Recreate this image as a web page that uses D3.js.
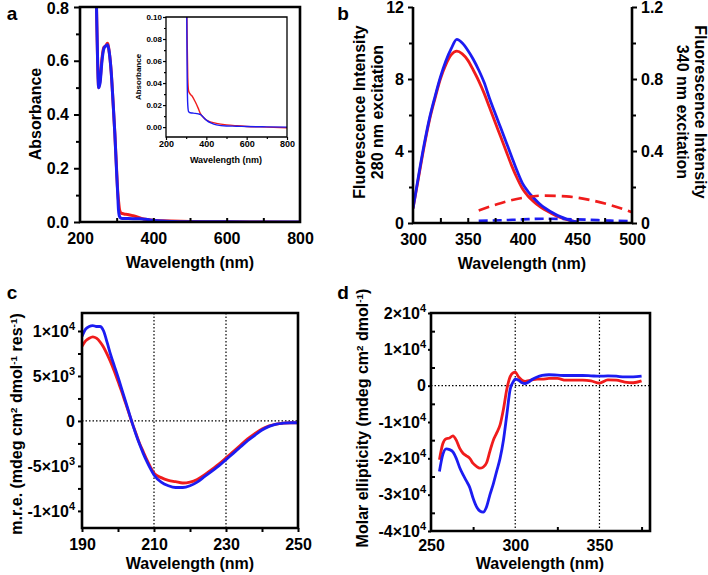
<!DOCTYPE html>
<html>
<head>
<meta charset="utf-8">
<script src="https://cdn.jsdelivr.net/npm/d3@7"></script>
<style>
body { margin: 0; background: #fff; }
</style>
</head>
<body>
<svg width="708" height="575"></svg>
<script>
// ---- data ----
// a: UV-vis absorbance
var absWl   = [242, 245, 248, 251, 255, 260, 265, 270, 275, 280, 285, 290, 295, 300, 303, 305, 308, 312, 320, 330, 345, 360, 370, 385, 400, 425, 450, 500, 550, 600, 700, 800];
var absRed  = [1.0, 0.8, 0.6, 0.5, 0.53, 0.61, 0.65, 0.655, 0.665, 0.63, 0.56, 0.45, 0.33, 0.19, 0.11, 0.08, 0.045, 0.033, 0.03, 0.028, 0.023, 0.017, 0.0125, 0.009, 0.0064, 0.0045, 0.0034, 0.002, 0.0012, 0.0006, 0, -0.0006];
var absBlue = [1.0, 0.8, 0.6, 0.5, 0.52, 0.6, 0.645, 0.655, 0.66, 0.63, 0.56, 0.45, 0.33, 0.18, 0.1, 0.045, 0.02, 0.014, 0.013, 0.0128, 0.0125, 0.012, 0.0115, 0.009, 0.0063, 0.0035, 0.002, 0.001, 0.0008, 0.0005, 0.0002, 0];

// b: fluorescence, 280 nm excitation (left axis)
var flWl   = [300, 305, 310, 315, 320, 325, 330, 335, 340, 345, 350, 355, 360, 365, 370, 375, 380, 385, 390, 395, 400, 405, 410, 415, 420, 425, 430, 435, 440, 445, 450];
var flRed  = [0.8, 2.5, 4.2, 5.7, 6.9, 8.0, 8.8, 9.35, 9.55, 9.4, 9.05, 8.5, 7.9, 7.2, 6.4, 5.6, 4.8, 4.0, 3.2, 2.5, 1.9, 1.5, 1.2, 0.95, 0.75, 0.58, 0.42, 0.3, 0.2, 0.12, 0.06];
var flBlue = [0.8, 2.6, 4.3, 5.8, 7.0, 8.1, 9.0, 9.7, 10.2, 10.0, 9.6, 9.1, 8.5, 7.8, 6.9, 6.1, 5.3, 4.5, 3.7, 2.9, 2.2, 1.75, 1.4, 1.1, 0.85, 0.65, 0.48, 0.34, 0.22, 0.12, 0.06];
// b: fluorescence, 340 nm excitation (right axis)
var fl340Wl   = [360, 380, 400, 420, 440, 460, 480, 500];
var fl340Red  = [0.07, 0.11, 0.14, 0.152, 0.148, 0.13, 0.1, 0.06];
var fl340Blue = [0.012, 0.015, 0.02, 0.024, 0.022, 0.018, 0.013, 0.01];

// c: far-UV CD
var farWl   = [190, 191, 192, 193, 194, 195, 196, 197, 198, 199, 200, 201, 202, 203, 204, 205, 206, 207, 208, 209, 210, 212, 214, 216, 218, 220, 222, 224, 226, 228, 230, 232, 234, 236, 238, 240, 242, 244, 246, 248, 250];
var farRed  = [8300, 8900, 9200, 9350, 9200, 8800, 8200, 7400, 6500, 5500, 4400, 3300, 2100, 900, -300, -1400, -2500, -3400, -4300, -5100, -5800, -6300, -6600, -6750, -6900, -6800, -6500, -6000, -5400, -4800, -4100, -3400, -2700, -2000, -1400, -900, -550, -350, -250, -200, -200];
var farBlue = [9400, 10200, 10500, 10600, 10500, 10500, 10000, 8700, 7300, 6100, 4900, 3600, 2300, 1000, -300, -1500, -2600, -3600, -4500, -5300, -6000, -6800, -7200, -7400, -7400, -7200, -6800, -6200, -5600, -5000, -4300, -3600, -2900, -2200, -1600, -1000, -600, -350, -250, -200, -200];

// d: near-UV CD
var nearWl   = [255, 257, 259, 261, 263, 265, 267, 269, 271, 273, 275, 277, 279, 281, 283, 285, 287, 289, 291, 293, 295, 297, 299, 300, 302, 304, 306, 308, 310, 313, 316, 320, 325, 330, 335, 340, 345, 350, 355, 360, 365, 370, 375];
var nearRed  = [-20400, -16000, -14600, -14400, -13800, -15000, -17200, -18600, -19300, -20000, -21400, -22200, -22700, -22400, -21200, -18000, -15000, -13000, -10800, -6500, -1000, 2500, 3600, 3700, 2400, 1500, 1200, 1400, 1600, 1800, 1800, 2000, 2000, 1500, 1500, 1500, 1300, 700, 1600, 1500, 1000, 800, 1300];
var nearBlue = [-23600, -19000, -17400, -17600, -18200, -20000, -22500, -24500, -26200, -28000, -31000, -33300, -34500, -34800, -33300, -30000, -27000, -23500, -20000, -15000, -8000, -1000, 1200, 1800, 1500, 800, 600, 1000, 1700, 2400, 2800, 3000, 2900, 2800, 2800, 2800, 2700, 2600, 2700, 2600, 2400, 2400, 2600];

// tick values
var absTicks = [0, 0.2, 0.4, 0.6, 0.8];
var insetTicks = [0, 0.02, 0.04, 0.06, 0.08, 0.1];
var flTicks = [0, 4, 8, 12];
var fl340Ticks = [0, 0.4, 0.8, 1.2];
var farTicks = [-10000, -5000, 0, 5000, 10000];
var nearTicks = [-40000, -30000, -20000, -10000, 0, 10000, 20000];

var FONT = '"Liberation Sans", Arial, Helvetica, sans-serif';
var RED = '#f01c1c', BLUE = '#1c1cf2';
var svg = d3.select('svg');

function addAxis(axis, tx, ty, size) {
  var g = svg.append('g').attr('transform', 'translate(' + tx + ',' + ty + ')').call(axis);
  g.select('.domain').remove();
  g.attr('font-family', FONT).attr('font-weight', 'bold').attr('font-size', size || 16);
  g.selectAll('line').attr('stroke', '#000').attr('stroke-width', size && size < 12 ? 1.2 : 2);
  g.selectAll('text').attr('fill', '#000');
  return g;
}

function frame(x0, y0, x1, y1, w, noTop) {
  var p = noTop
    ? 'M' + x0 + ',' + y0 + 'V' + y1 + 'H' + x1 + 'V' + y0
    : 'M' + x0 + ',' + y0 + 'V' + y1 + 'H' + x1 + 'V' + y0 + 'Z';
  svg.append('path').attr('d', p).attr('fill', 'none').attr('stroke', '#000')
    .attr('stroke-width', w).attr('stroke-linejoin', 'miter');
}

function clip(id, x0, y0, x1, y1) {
  svg.append('clipPath').attr('id', id).append('rect')
    .attr('x', x0).attr('y', y0).attr('width', x1 - x0).attr('height', y1 - y0);
}

function curve(id, x, y, xs, ys, color, w, dash) {
  var line = d3.line().x(function (d, i) { return x(xs[i]); }).y(function (d) { return y(d); })
    .curve(d3.curveMonotoneX);
  svg.append('path').attr('d', line(ys)).attr('fill', 'none').attr('stroke', color)
    .attr('stroke-width', w).attr('stroke-dasharray', dash || null)
    .attr('stroke-linejoin', 'round').attr('clip-path', 'url(#' + id + ')');
}

function text(str, x, y, size, rot, anchor) {
  return svg.append('text').attr('x', 0).attr('y', 0)
    .attr('transform', 'translate(' + x + ',' + y + ')' + (rot ? ' rotate(' + rot + ')' : ''))
    .attr('font-family', FONT).attr('font-weight', 'bold').attr('font-size', size)
    .attr('text-anchor', anchor || 'middle').attr('fill', '#000').text(str);
}

// superscript-aware label: parts = [[text, isSup], ...]
function richText(parts, x, y, size, rot) {
  var t = svg.append('text')
    .attr('transform', 'translate(' + x + ',' + y + ')' + (rot ? ' rotate(' + rot + ')' : ''))
    .attr('font-family', FONT).attr('font-weight', 'bold').attr('font-size', size)
    .attr('text-anchor', 'middle').attr('fill', '#000');
  parts.forEach(function (p) {
    t.append('tspan').attr('font-size', p[1] ? size * 0.62 : size)
      .attr('baseline-shift', p[1] ? 'super' : null).text(p[0]);
  });
  return t;
}

function sciFormat(g) {
  g.selectAll('.tick text').each(function (v) {
    var el = d3.select(this).text('');
    if (v === 0) { el.text('0'); return; }
    var e = Math.abs(v) >= 10000 ? 4 : 3;
    var m = v / Math.pow(10, e);
    el.append('tspan').text(m + '×10');
    el.append('tspan').attr('font-size', 11).attr('dy', -7).text(e);
  });
}

// ================= panel a =================
var ax = d3.scaleLinear().domain([200, 800]).range([80, 300]);
var ay = d3.scaleLinear().domain([0, 0.8]).range([222, 7]);
clip('ca', 80, 7, 300, 222);
curve('ca', ax, ay, absWl, absRed, RED, 3);
curve('ca', ax, ay, absWl, absBlue, BLUE, 3);
addAxis(d3.axisLeft(ay).tickValues([0.1, 0.3, 0.5, 0.7]).tickSize(4).tickFormat(''), 80, 0);
addAxis(d3.axisLeft(ay).tickValues(absTicks).tickSize(6).tickPadding(5).tickFormat(d3.format('.1f')), 80, 0)
  .selectAll('.tick text').filter(function (d) { return d === 0.8; }).attr('dy', '0.42em');
addAxis(d3.axisBottom(ax).tickValues([300, 400, 500, 600, 700]).tickSize(-4).tickFormat(''), 0, 222);
addAxis(d3.axisBottom(ax).tickValues([200, 400, 600, 800]).tickSize(0).tickPadding(11), 0, 222);
frame(80, 7, 300, 222, 2.6);
text('Absorbance', 41, 114, 16, -90);
text('Wavelength (nm)', 190, 268, 16);
text('a', 12, 20, 19);

// inset
var ix = d3.scaleLinear().domain([200, 800]).range([166, 287]);
var iy = d3.scaleLinear().domain([-0.009, 0.1]).range([137, 17]);
svg.append('rect').attr('x', 166).attr('y', 17).attr('width', 121).attr('height', 120).attr('fill', '#fff');
clip('ci', 166, 17, 287, 137);
curve('ci', ix, iy, absWl, absRed, RED, 1.4);
curve('ci', ix, iy, absWl, absBlue, BLUE, 1.4);
addAxis(d3.axisLeft(iy).tickValues([0.01, 0.03, 0.05, 0.07, 0.09]).tickSize(2).tickFormat(''), 166, 0, 8);
addAxis(d3.axisLeft(iy).tickValues(insetTicks).tickSize(3).tickPadding(1).tickFormat(d3.format('.2f')), 166, 0, 8);
addAxis(d3.axisBottom(ix).tickValues([300, 500, 700]).tickSize(2).tickFormat(''), 0, 137, 9);
addAxis(d3.axisBottom(ix).tickValues([200, 400, 600, 800]).tickSize(3).tickPadding(1), 0, 137, 9);
frame(166, 17, 287, 137, 1.3);
text('Absorbance', 141, 77, 8, -90);
text('Wavelength (nm)', 226, 163, 9);

// ================= panel b =================
var bx = d3.scaleLinear().domain([300, 500]).range([413, 632]);
var by = d3.scaleLinear().domain([0, 12]).range([223, 7]);
var by2 = d3.scaleLinear().domain([0, 1.2]).range([223, 7]);
clip('cb', 413, 7, 632, 223);
curve('cb', bx, by, flWl, flRed, RED, 2.8);
curve('cb', bx, by, flWl, flBlue, BLUE, 2.8);
curve('cb', bx, by2, fl340Wl, fl340Red, RED, 2.6, '11,6');
curve('cb', bx, by2, fl340Wl, fl340Blue, BLUE, 2.6, '9,5');
addAxis(d3.axisLeft(by).tickValues([2, 6, 10]).tickSize(4).tickFormat(''), 413, 0);
addAxis(d3.axisLeft(by).tickValues(flTicks).tickSize(5).tickPadding(4), 413, 0);
addAxis(d3.axisRight(by2).tickValues([0.2, 0.6, 1.0]).tickSize(4).tickFormat(''), 632, 0);
addAxis(d3.axisRight(by2).tickValues(fl340Ticks).tickSize(5).tickPadding(4).tickFormat(function (d) { return d === 0 ? '0' : d3.format('.1f')(d); }), 632, 0);
addAxis(d3.axisBottom(bx).tickValues([325, 350, 375, 400, 425, 450, 475]).tickSize(-5).tickFormat(''), 0, 223);
addAxis(d3.axisBottom(bx).tickValues([300, 350, 400, 450, 500]).tickSize(0).tickPadding(11), 0, 223);
frame(413, 7, 632, 223, 2.6, true);
text('Fluorescence Intensity', 365, 112, 16, -90);
text('280 nm excitation', 383, 112, 16, -90);
text('Fluorescence Intensity', 695, 112, 16, 90);
text('340 nm excitation', 677, 112, 16, 90);
text('Wavelength (nm)', 522, 269, 16);
text('b', 343, 20, 19);

// ================= panel c =================
var cx = d3.scaleLinear().domain([190, 250]).range([82, 298]);
var cy = d3.scaleLinear().domain([-11900, 12000]).range([528, 313]);
clip('cc', 82, 313, 298, 528);
[210, 230].forEach(function (v) {
  svg.append('line').attr('x1', cx(v)).attr('x2', cx(v)).attr('y1', 313).attr('y2', 528)
    .attr('stroke', '#000').attr('stroke-width', 1.2).attr('stroke-dasharray', '1.5,2');
});
svg.append('line').attr('x1', 82).attr('x2', 298).attr('y1', cy(0)).attr('y2', cy(0))
  .attr('stroke', '#000').attr('stroke-width', 1.2).attr('stroke-dasharray', '1.5,2');
curve('cc', cx, cy, farWl, farRed, RED, 2.8);
curve('cc', cx, cy, farWl, farBlue, BLUE, 2.8);
addAxis(d3.axisLeft(cy).tickValues([-7500, -2500, 2500, 7500]).tickSize(4).tickFormat(''), 82, 0);
addAxis(d3.axisLeft(cy).tickValues(farTicks).tickSize(4).tickPadding(3), 82, 0).call(sciFormat);
addAxis(d3.axisBottom(cx).tickValues([200, 220, 240]).tickSize(4).tickFormat(''), 0, 528);
addAxis(d3.axisBottom(cx).tickValues([190, 210, 230, 250]).tickSize(4).tickPadding(7), 0, 528);
frame(82, 313, 298, 528, 2.6);
richText([['m.r.e. (mdeg cm', 0], ['2', 1], [' dmol', 0], ['-1', 1], [' res', 0], ['-1', 1], [')', 0]], 22, 424, 16, -90);
text('Wavelength (nm)', 190, 569, 16);
text('c', 12, 299, 19);

// ================= panel d =================
var dx = d3.scaleLinear().domain([250, 380]).range([431, 650]);
var dy = d3.scaleLinear().domain([-40000, 20000]).range([531, 313]);
clip('cd', 431, 313, 650, 531);
[300, 350].forEach(function (v) {
  svg.append('line').attr('x1', dx(v)).attr('x2', dx(v)).attr('y1', 313).attr('y2', 531)
    .attr('stroke', '#000').attr('stroke-width', 1.2).attr('stroke-dasharray', '1.5,2');
});
svg.append('line').attr('x1', 431).attr('x2', 650).attr('y1', dy(0)).attr('y2', dy(0))
  .attr('stroke', '#000').attr('stroke-width', 1.2).attr('stroke-dasharray', '1.5,2');
curve('cd', dx, dy, nearWl, nearRed, RED, 2.8);
curve('cd', dx, dy, nearWl, nearBlue, BLUE, 2.8);
addAxis(d3.axisLeft(dy).tickValues([-35000, -25000, -15000, -5000, 5000, 15000]).tickSize(-4).tickFormat(''), 431, 0);
addAxis(d3.axisLeft(dy).tickValues(nearTicks).tickSize(3).tickPadding(2), 431, 0).call(sciFormat);
addAxis(d3.axisBottom(dx).tickValues([275, 325, 375]).tickSize(-4).tickFormat(''), 0, 531);
addAxis(d3.axisBottom(dx).tickValues([250, 300, 350]).tickSize(0).tickPadding(9), 0, 531);
frame(431, 313, 650, 531, 2.6);
richText([['Molar ellipticity (mdeg cm', 0], ['2', 1], [' dmol', 0], ['-1', 1], [')', 0]], 368, 418, 16, -90);
text('Wavelength (nm)', 540, 569, 16);
text('d', 343, 299, 19);
</script>
</body>
</html>
